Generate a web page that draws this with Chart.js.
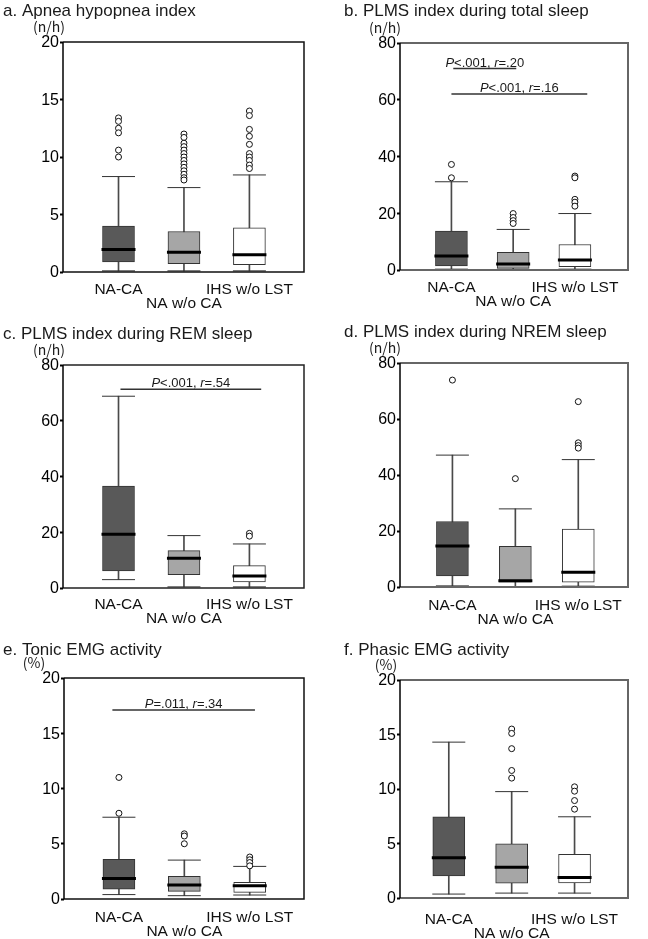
<!DOCTYPE html>
<html>
<head>
<meta charset="utf-8">
<script src="https://cdn.jsdelivr.net/npm/chart.js@4.4.1/dist/chart.umd.min.js"></script>
<style>
  body { margin: 0; background: #fff; }
  .panel { position: absolute; }
</style>
</head>
<body>
<div class="panel" style="left:0;top:0;width:324px;height:318px"><canvas id="chartA"></canvas></div>
<div class="panel" style="left:324px;top:0;width:324px;height:318px"><canvas id="chartB"></canvas></div>
<div class="panel" style="left:0;top:310px;width:324px;height:322px"><canvas id="chartC"></canvas></div>
<div class="panel" style="left:324px;top:310px;width:324px;height:322px"><canvas id="chartD"></canvas></div>
<div class="panel" style="left:0;top:620px;width:324px;height:319px"><canvas id="chartE"></canvas></div>
<div class="panel" style="left:324px;top:620px;width:324px;height:319px"><canvas id="chartF"></canvas></div>
<script>
// groups and box colours
const groups = ['NA-CA', 'NA w/o CA', 'IHS w/o LST'];
const boxColors = ['#595959', '#a6a6a6', '#ffffff'];
const ticks20 = [0, 5, 10, 15, 20];
const ticks80 = [0, 20, 40, 60, 80];

// [low whisker, Q1, median, Q3, high whisker] per group
const ahiStats = [[0.1, 0.87, 1.95, 3.99, 8.3], [0.1, 0.73, 1.72, 3.52, 7.34], [0.1, 0.64, 1.51, 3.84, 8.44]];
const ahiOutliers = [
  [13.4, 13.1, 12.5, 12.1, 10.6, 10.0],
  [12.0, 11.7, 11.2, 10.9, 10.6, 10.3, 10.0, 9.7, 9.4, 9.1, 8.8, 8.5, 8.2, 8.0],
  [14.0, 13.6, 12.4, 11.8, 11.1, 10.3, 10.0, 9.7, 9.3, 9.0]
];

const plmsTotalStats = [[0.3, 1.4, 4.9, 13.7, 31.1], [0.2, 0.6, 2.1, 6.2, 14.3], [0.3, 1.2, 3.5, 9.0, 19.9]];
const plmsTotalOutliers = [[37.2, 32.5], [19.9, 18.5, 17.4, 16.4], [33.1, 32.5, 24.9, 23.9, 22.5]];
// comparison bars: [from group pos, to group pos, y], with P and r text
const plmsTotalSig = [[1.03, 2.05, 71], [1.0, 3.2, 62]];
const plmsTotalSigText = [['<.001', '.20'], ['<.001', '.16']];

const plmsRemStats = [[3.0, 6.1, 19.3, 36.6, 68.8], [0.4, 4.8, 10.7, 13.4, 18.8], [0.4, 2.2, 4.3, 8.0, 15.8]];
const plmsRemOutliers = [[], [], [19.6, 18.6]];
const plmsRemSig = [[1.03, 3.18, 71.3]];
const plmsRemSigText = [['<.001', '.54']];

const plmsNremStats = [[0.4, 4.0, 14.6, 23.4, 47.1], [0.1, 1.7, 2.2, 14.5, 27.9], [0.3, 1.7, 5.3, 20.7, 45.5]];
const plmsNremOutliers = [[73.9], [38.7], [66.2, 51.5, 50.5, 49.6]];

const tonicStats = [[0.4, 0.9, 1.86, 3.58, 7.4], [0.3, 0.69, 1.26, 2.05, 3.52], [0.36, 0.6, 1.2, 1.5, 2.95]];
const tonicOutliers = [[11.0, 7.76], [5.9, 5.7, 5.0], [3.8, 3.55, 3.3, 3.0]];
const tonicSig = [[0.9, 3.08, 17.1]];
const tonicSigText = [['=.011', '.34']];

const phasicStats = [[0.36, 2.03, 3.7, 7.45, 14.3], [0.45, 1.36, 2.82, 4.97, 9.76], [0.45, 1.39, 1.88, 4.0, 7.45]];
const phasicOutliers = [[], [15.5, 15.1, 13.7, 11.7, 11.0], [10.2, 9.8, 8.94, 8.15]];

function drawSigText(ctx, x, y, p, r) {
  const parts = [['P', 'italic '], [p + ', ', ''], ['r', 'italic '], ['=' + r, '']];
  let total = 0;
  parts.forEach(pt => { ctx.font = pt[1] + '13px "Liberation Sans"'; total += ctx.measureText(pt[0]).width; });
  let cx = x - total / 2;
  ctx.textAlign = 'left';
  ctx.textBaseline = 'alphabetic';
  parts.forEach(pt => {
    ctx.font = pt[1] + '13px "Liberation Sans"';
    ctx.fillText(pt[0], cx, y);
    cx += ctx.measureText(pt[0]).width;
  });
}

function makePanel(p) {
  const pos = groups.map((g, i) => i + 1);
  const datasets = [
    {
      type: 'bar', order: 6, grouped: false, barThickness: 1,
      backgroundColor: '#4a4a4a',
      data: p.stats.map((s, i) => ({ x: pos[i], y: [s[0], s[4]] }))
    },
    {
      type: 'bar', order: 5, grouped: false, barThickness: 32,
      backgroundColor: boxColors, borderColor: '#333', borderWidth: 1, borderSkipped: false,
      data: p.stats.map((s, i) => ({ x: pos[i], y: [s[1], s[3]] }))
    },
    {
      type: 'scatter', order: 4, pointStyle: 'line', pointRadius: 16.5,
      pointBorderWidth: 1, pointBorderColor: '#333',
      data: p.stats.flatMap((s, i) => [{ x: pos[i], y: s[0] }, { x: pos[i], y: s[4] }])
    },
    {
      type: 'scatter', order: 3, pointStyle: 'line', pointRadius: 17,
      pointBorderWidth: 3, pointBorderColor: '#000',
      data: p.stats.map((s, i) => ({ x: pos[i], y: s[2] }))
    },
    {
      type: 'scatter', order: 2, pointStyle: 'circle', pointRadius: 3,
      pointBorderWidth: 1, pointBorderColor: '#111', pointBackgroundColor: '#fff',
      data: p.outliers.flatMap((o, i) => o.map(v => ({ x: pos[i], y: v })))
    }
  ];
  (p.sig || []).forEach(s => {
    datasets.push({
      type: 'line', order: 1, borderColor: '#333', borderWidth: 1.5, pointRadius: 0,
      data: [{ x: s[0], y: s[2] }, { x: s[1], y: s[2] }]
    });
  });

  const deco = {
    id: 'deco',
    afterDraw(chart) {
      const ctx = chart.ctx;
      const a = chart.chartArea;
      ctx.save();
      ctx.strokeStyle = p.frame;
      ctx.lineWidth = p.frameWidth;
      ctx.beginPath();
      ctx.moveTo(a.left, a.top); ctx.lineTo(a.right, a.top);
      ctx.lineTo(a.right, a.bottom); ctx.lineTo(a.left, a.bottom);
      ctx.stroke();
      ctx.strokeStyle = '#000';
      ctx.lineWidth = 1.5;
      ctx.beginPath();
      ctx.moveTo(a.left, a.top); ctx.lineTo(a.left, a.bottom);
      ctx.stroke();

      ctx.fillStyle = '#1a1a1a';
      ctx.font = '17px "Liberation Sans"';
      ctx.textAlign = 'left';
      ctx.textBaseline = 'middle';
      ctx.fillText(p.title, p.titleX, p.titleY);

      ctx.font = '14px "Noto Sans CJK JP"';
      ctx.textAlign = 'center';
      ctx.fillText(p.unit, p.unitX, a.top - 15);

      const xs = chart.scales.x, ys = chart.scales.y;
      (p.sig || []).forEach((s, i) => {
        const cx = xs.getPixelForValue((s[0] + s[1]) / 2);
        const cy = ys.getPixelForValue(s[2]);
        drawSigText(ctx, cx, cy - 2, p.sigText[i][0], p.sigText[i][1]);
      });
      ctx.restore();
    }
  };

  new Chart(document.getElementById(p.id), {
    type: 'bar',
    data: { datasets: datasets },
    options: {
      responsive: true,
      maintainAspectRatio: false,
      animation: false,
      events: [],
      layout: { padding: { left: 0, top: p.area[1], right: p.w - p.area[2], bottom: 0 } },
      plugins: { legend: { display: false }, tooltip: { enabled: false } },
      scales: {
        x: {
          type: 'linear', min: p.xr[0], max: p.xr[1], offset: false,
          grid: { display: false, drawTicks: false, offset: false },
          border: { display: false },
          afterBuildTicks: s => { s.ticks = pos.map(v => ({ value: v })); },
          afterFit: s => { s.height = p.h - p.area[3]; },
          ticks: {
            padding: p.xPad,
            color: '#111',
            font: { family: '"Liberation Sans"', size: 15.5, lineHeight: 0.88 },
            callback: v => (v === 2 ? ['', groups[1]] : groups[v - 1])
          }
        },
        y: {
          min: p.yTicks[0], max: p.yTicks[p.yTicks.length - 1],
          grid: { drawOnChartArea: false, tickLength: 3, tickWidth: 2, tickColor: '#000' },
          border: { display: false },
          afterBuildTicks: s => { s.ticks = p.yTicks.map(v => ({ value: v })); },
          afterFit: s => { s.width = p.area[0]; },
          ticks: { padding: 1, labelOffset: 1, color: '#000', font: { family: '"Liberation Sans"', size: 16 } }
        }
      }
    },
    plugins: [deco]
  });
}

const panels = [
  { id: 'chartA', w: 324, h: 318, area: [63, 42, 306, 272], xr: [0.152, 3.834], yTicks: ticks20,
    title: 'a. Apnea hypopnea index', titleX: 3, titleY: 11, unit: '(n/h)', unitX: 49, xPad: 11,
    frame: '#111', frameWidth: 1.5, stats: ahiStats, outliers: ahiOutliers },
  { id: 'chartB', w: 324, h: 318, area: [76, 43, 320, 270], xr: [0.167, 3.86], yTicks: ticks80,
    title: 'b. PLMS index during total sleep', titleX: 20, titleY: 11, unit: '(n/h)', unitX: 61, xPad: 11,
    frame: '#666', frameWidth: 2, stats: plmsTotalStats, outliers: plmsTotalOutliers,
    sig: plmsTotalSig, sigText: plmsTotalSigText },
  { id: 'chartC', w: 324, h: 322, area: [63, 55, 306, 278], xr: [0.152, 3.834], yTicks: ticks80,
    title: 'c. PLMS index during REM sleep', titleX: 3, titleY: 24, unit: '(n/h)', unitX: 49, xPad: 10,
    frame: '#222', frameWidth: 1.5, stats: plmsRemStats, outliers: plmsRemOutliers,
    sig: plmsRemSig, sigText: plmsRemSigText },
  { id: 'chartD', w: 324, h: 322, area: [76, 53, 315, 277], xr: [0.167, 3.79], yTicks: ticks80,
    title: 'd. PLMS index during NREM sleep', titleX: 20, titleY: 22, unit: '(n/h)', unitX: 61, xPad: 12,
    frame: '#666', frameWidth: 2, stats: plmsNremStats, outliers: plmsNremOutliers },
  { id: 'chartE', w: 324, h: 319, area: [64, 58, 306, 279], xr: [0.16, 3.83], yTicks: ticks20,
    title: 'e. Tonic EMG activity', titleX: 3, titleY: 30, unit: '(%)', unitX: 34, xPad: 12,
    frame: '#111', frameWidth: 1.5, stats: tonicStats, outliers: tonicOutliers,
    sig: tonicSig, sigText: tonicSigText },
  { id: 'chartF', w: 324, h: 319, area: [76, 60, 319, 278], xr: [0.224, 3.85], yTicks: ticks20,
    title: 'f. Phasic EMG activity', titleX: 20, titleY: 30, unit: '(%)', unitX: 62, xPad: 15,
    frame: '#666', frameWidth: 2, stats: phasicStats, outliers: phasicOutliers }
];

panels.forEach(makePanel);
</script>
</body>
</html>
